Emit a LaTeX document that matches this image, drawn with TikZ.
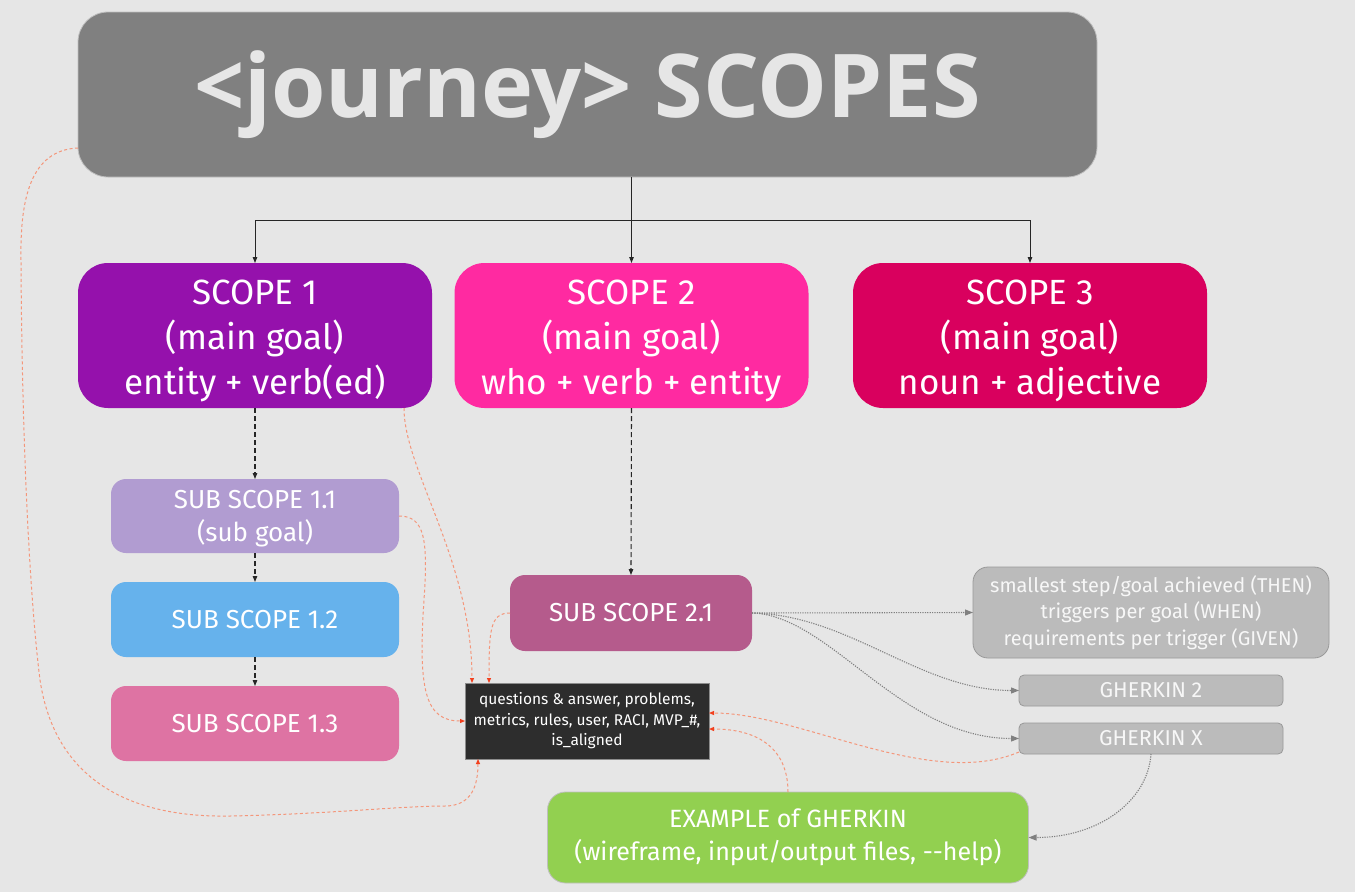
\documentclass[tikz,border=0pt]{standalone}
\usepackage{fontspec}
\setmainfont{Fira Sans}
\newfontfamily\titlefont{Open Sans}
\usetikzlibrary{arrows.meta,calc}

\definecolor{bg}{HTML}{E6E6E6}
\definecolor{titlegray}{HTML}{808080}
\definecolor{scopeA}{HTML}{9511AC}
\definecolor{scopeB}{HTML}{FF2AA1}
\definecolor{scopeC}{HTML}{D9005E}
\definecolor{subA}{HTML}{B19CD1}
\definecolor{subB}{HTML}{66B2EC}
\definecolor{subC}{HTML}{DE73A3}
\definecolor{subD}{HTML}{B55B8C}
\definecolor{darkbox}{HTML}{2D2D2D}
\definecolor{lightbox}{HTML}{BBBBBB}
\definecolor{greenbox}{HTML}{92D050}
\definecolor{salmon}{HTML}{F4967A}
\definecolor{tipred}{HTML}{F2401E}

\tikzset{
  box/.style={inner sep=0pt, outer sep=0pt, align=center, text=white},
  bigbox/.style={box, rounded corners=30pt, minimum width=354pt, minimum height=145pt,
    font=\fontsize{35}{45}\selectfont},
  subbox/.style={box, rounded corners=15pt, minimum width=288pt, minimum height=75pt,
    font=\fontsize{26}{33}\selectfont},
  graybox/.style={box, fill=lightbox, draw=black!40, line width=0.8pt, text=white!97!black},
  solidarrow/.style={draw=black!85, line width=1pt, -{Triangle[length=6pt,width=4.5pt]}},
  dasharrow/.style={draw=black!85, line width=1.1pt, dash pattern=on 5pt off 3pt,
    -{Triangle[length=6pt,width=4.5pt]}},
  dotarrow/.style={draw=black!50, line width=1.1pt, dash pattern=on 1.2pt off 1.2pt,
    -{Triangle[length=8pt,width=6pt,color=black!50]}},
  linkarrow/.style={draw=salmon, line width=1pt, dash pattern=on 3pt off 2.5pt,
    -{Triangle[length=5pt,width=4pt,color=tipred]}},
}
% strut that lowers the text block of a box a little
\newcommand{\lowerby}[1]{\rule{0pt}{#1}}

\begin{document}
\begin{tikzpicture}[x=1pt,y=-1pt]
  \fill[bg] (0,0) rectangle (1355,892);
  \useasboundingbox (0,0) rectangle (1355,892);

  % heading
  \node[box, fill=titlegray, draw=black!25, line width=0.8pt, rounded corners=30pt,
        minimum width=1019pt, minimum height=165pt, text=bg,
        font=\titlefont\bfseries\fontsize{88}{100}\selectfont]
        (title) at (587.5,94.5) {\raisebox{2pt}{<journey> SCOPES}};

  % main scopes
  \node[bigbox, fill=scopeA] (s1) at (255,335.5) {\lowerby{36pt}SCOPE 1\\(main goal)\\entity + verb(ed)};
  \node[bigbox, fill=scopeB] (s2) at (631.5,335.5) {\lowerby{36pt}SCOPE 2\\(main goal)\\who + verb + entity};
  \node[bigbox, fill=scopeC] (s3) at (1030,335.5) {\lowerby{36pt}SCOPE 3\\(main goal)\\noun + adjective};

  % sub scopes
  \node[subbox, fill=subA, minimum height=74pt] (ss11) at (255,516) {\lowerby{24pt}SUB SCOPE 1.1\\(sub goal)};
  \node[subbox, fill=subB] (ss12) at (255,619.5) {SUB SCOPE 1.2};
  \node[subbox, fill=subC] (ss13) at (255,723.5) {SUB SCOPE 1.3};
  \node[subbox, fill=subD, minimum width=242pt, minimum height=76pt] (ss21) at (631,613) {SUB SCOPE 2.1};

  % shared notes
  \node[box, fill=darkbox, draw=black!45, line width=0.8pt, minimum width=244pt,
        minimum height=76pt, font=\fontsize{15.5}{20.5}\selectfont]
        (blk) at (587,721) {questions \& answer, problems,\\metrics, rules, user, RACI, MVP\_\#,\\is\_aligned};

  % gherkin parts
  \node[graybox, rounded corners=15pt, minimum width=356pt, minimum height=91pt,
        font=\fontsize{20}{26.5}\selectfont]
        (gbox) at (1151,612.5) {smallest step/goal achieved (THEN)\\triggers per goal (WHEN)\\requirements per trigger (GIVEN)};
  \node[graybox, rounded corners=5pt, minimum width=264pt, minimum height=31pt,
        font=\fontsize{21.5}{22}\selectfont] (g2) at (1151,690.5) {GHERKIN 2};
  \node[graybox, rounded corners=5pt, minimum width=264pt, minimum height=31pt,
        font=\fontsize{21.5}{22}\selectfont] (gx) at (1151,738.5) {GHERKIN X};

  % example
  \node[box, fill=greenbox, draw=black!25, line width=0.8pt, rounded corners=18pt,
        minimum width=481pt, minimum height=91pt, font=\fontsize{25}{33}\selectfont]
        (ex) at (788,837.5) {EXAMPLE of GHERKIN\\(wireframe, input/output files, {-}{-}help)};

  % tree from the heading
  \coordinate (hub) at ($(s2.north)+(0,-43)$);
  \draw[draw=black!85, line width=1pt] (s2.north |- title.south) -- (hub);
  \draw[solidarrow] (hub) -| (s1.north);
  \draw[solidarrow] (hub) -- (s2.north);
  \draw[solidarrow] (hub) -| (s3.north);

  % sub scope chains
  \draw[dasharrow] (s1.south) -- (ss11.north);
  \draw[dasharrow] (ss11.south) -- (ss12.north);
  \draw[dasharrow] (ss12.south) -- (ss13.north);
  \draw[dasharrow] (s2.south) -- (ss21.north);

  % gherkin links
  \draw[dotarrow] (ss21.east) -- (gbox.west);
  \draw[dotarrow] (ss21.east) .. controls (850,615) and (920,690.5) .. (g2.west);
  \draw[dotarrow] (ss21.east) .. controls (830,615) and (900,738.5) .. (gx.west);
  \draw[dotarrow] (gx.south) .. controls (1148,800) and (1100,837.5) .. (ex.east);

  % links into the shared notes
  \draw[linkarrow] ($(title.south west)+(0,-29)$)
      .. controls (30,150) and (20,200) .. (21,260)
      .. controls (22,450) and (30,600) .. (40,680)
      .. controls (55,780) and (130,818) .. (230,816)
      .. controls (330,814) and (400,806) .. (445,806)
      .. controls (472,806) and (478,785) .. ($(blk.south west)+(13,0)$);
  \draw[linkarrow] ($(s1.south east)+(-28,0)$)
      .. controls (404,470) and (472,560) .. ($(blk.north west)+(7,0)$);
  \draw[linkarrow] (ss11.east)
      .. controls (425,516) and (428,540) .. (424,600)
      .. controls (418,690) and (425,721) .. (blk.west);
  \draw[linkarrow] (ss21.west)
      .. controls (490,613) and (489,630) .. ($(blk.north west)+(24,0)$);
  \draw[linkarrow] ($(gx.south west)+(0,-2)$)
      .. controls (930,790) and (800,713) .. ($(blk.east)+(0,-8)$);
  \draw[linkarrow] (ex.north)
      .. controls (788,750) and (760,729) .. ($(blk.east)+(0,8)$);
\end{tikzpicture}
\end{document}
